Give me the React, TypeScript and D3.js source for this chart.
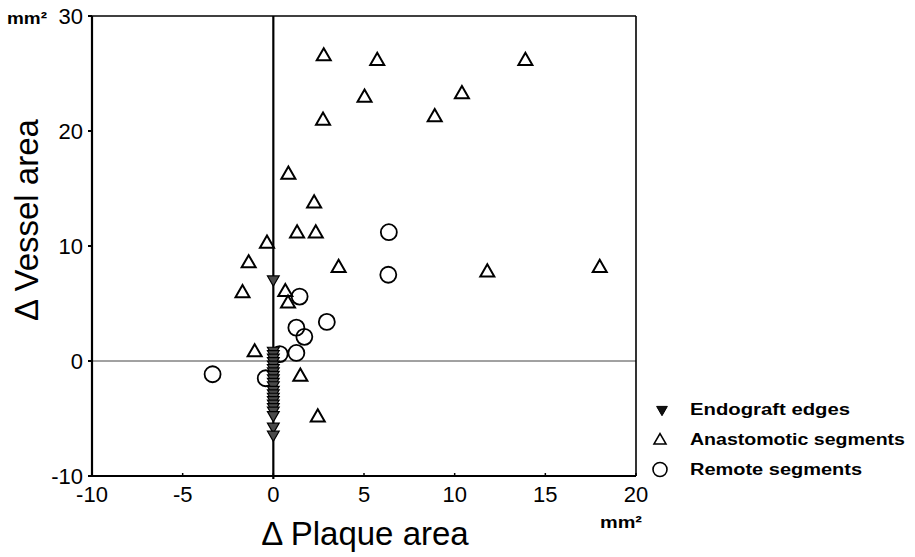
import React from "react";
import * as d3 from "d3";

// ---- data ----
const xTicks = [-10, -5, 0, 5, 10, 15, 20];
const yTicks = [-10, 0, 10, 20, 30];

const anastomoticX = [2.78, 5.73, 13.9, 5.03, 10.4, 8.9, 2.74, 0.83, 2.25, 1.31, 2.34, -0.35, -1.36, 3.6, 11.8, 18.0, -1.7, 0.66, 0.81, -1.03, 1.49, 2.45];
const anastomoticY = [26.5, 26.1, 26.1, 22.9, 23.2, 21.2, 20.9, 16.2, 13.7, 11.1, 11.1, 10.2, 8.5, 8.1, 7.7, 8.1, 5.9, 6.0, 5.0, 0.76, -1.36, -4.9];

const remoteX = [6.37, 6.34, 1.45, 2.95, 1.27, 1.71, 1.27, 0.35, -3.35, -0.42];
const remoteY = [11.2, 7.5, 5.6, 3.4, 2.9, 2.1, 0.7, 0.6, -1.15, -1.5];

const endograftX = [0, 0, 0, 0, 0, 0, 0, 0, 0, 0, 0, 0, 0, 0, 0, 0, 0, 0, 0, 0, 0, 0];
const endograftY = [7.1, 0.9, 0.6, 0.3, 0.0, -0.3, -0.6, -0.9, -1.2, -1.5, -1.8, -2.1, -2.5, -2.8, -3.1, -3.4, -3.7, -4.0, -4.3, -4.7, -5.7, -6.4];

const legendLabels = ["Endograft edges", "Anastomotic segments", "Remote segments"];

export default function App() {
  const left = 92, right = 636, top = 16, bottom = 476;
  const x = d3.scaleLinear().domain([-10, 20]).range([left, right]);
  const y = d3.scaleLinear().domain([-10, 30]).range([bottom, top]);

  const triUp = d3.symbol().type(d3.symbolTriangle).size(85)() as string;
  const triDown = d3.symbol().type(d3.symbolTriangle).size(60)() as string;
  const triLegendDown = d3.symbol().type(d3.symbolTriangle).size(50)() as string;
  const triLegend = d3.symbol().type(d3.symbolTriangle).size(62)() as string;
  const font = "Arial, 'Liberation Sans', Helvetica, sans-serif";

  const legendY = [409.5, 439.5, 469.5];
  const legendLen = [160, 215, 172];

  return (
    <svg width={915} height={557} style={{ position: "absolute", left: 0, top: 0, background: "#fff" }} fontFamily={font}>
      <rect x={0} y={0} width={915} height={557} fill="#fff" />
      {/* zero lines */}
      <line x1={left} x2={right} y1={y(0)} y2={y(0)} stroke="#444" strokeWidth={1} />
      <line x1={x(0)} x2={x(0)} y1={top} y2={bottom + 3} stroke="#000" strokeWidth={2.2} />
      {/* frame */}
      <line x1={left} x2={right} y1={top} y2={top} stroke="#000" strokeWidth={1.5} />
      <line x1={right} x2={right} y1={top} y2={bottom} stroke="#000" strokeWidth={1.6} />
      <line x1={left} x2={left} y1={top} y2={bottom} stroke="#000" strokeWidth={2.2} />
      <line x1={left} x2={right} y1={bottom} y2={bottom} stroke="#000" strokeWidth={2.2} />
      {/* ticks */}
      {xTicks.map((t) => (
        <g key={"xt" + t}>
          <line x1={x(t)} x2={x(t)} y1={bottom} y2={bottom - 3} stroke="#000" strokeWidth={1.5} />
          <text x={x(t)} y={502} fontSize={22} textAnchor="middle" fill="#000">{t}</text>
        </g>
      ))}
      {yTicks.map((t) => (
        <g key={"yt" + t}>
          <line x1={left - 4} x2={left} y1={y(t)} y2={y(t)} stroke="#000" strokeWidth={2} />
          <text x={83} y={y(t)} dy="0.36em" fontSize={22} textAnchor="end" fill="#000">{t}</text>
        </g>
      ))}
      {/* units */}
      <text x={7} y={24} fontSize={17} fontWeight="bold" textLength={40} lengthAdjust="spacingAndGlyphs">mm²</text>
      <text x={600} y={528} fontSize={17} fontWeight="bold" textLength={42} lengthAdjust="spacingAndGlyphs">mm²</text>
      {/* axis titles */}
      <text x={365} y={545} fontSize={33} textAnchor="middle">Δ Plaque area</text>
      <text transform={`translate(38,220) rotate(-90)`} fontSize={33} textAnchor="middle">Δ Vessel area</text>

      {/* remote segments */}
      {remoteX.map((v, i) => (
        <circle key={"r" + i} cx={x(v)} cy={y(remoteY[i])} r={8} fill="none" stroke="#000" strokeWidth={1.8} />
      ))}
      {/* anastomotic segments */}
      {anastomoticX.map((v, i) => (
        <path key={"a" + i} d={triUp} transform={`translate(${x(v)},${y(anastomoticY[i])})`} fill="none" stroke="#000" strokeWidth={2} strokeLinejoin="miter" />
      ))}
      {/* endograft edges */}
      {endograftX.map((v, i) => (
        <path key={"e" + i} d={triDown} transform={`translate(${x(v)},${y(endograftY[i])}) rotate(180)`} fill="#4a4a4a" stroke="#000" strokeWidth={1.2} />
      ))}

      {/* legend */}
      <path d={triLegendDown} transform={`translate(662,${legendY[0]}) rotate(180)`} fill="#111" stroke="#000" strokeWidth={1} />
      <path d={triLegend} transform={`translate(660,${legendY[1] + 1})`} fill="none" stroke="#000" strokeWidth={1.6} />
      <circle cx={660} cy={legendY[2]} r={7} fill="none" stroke="#000" strokeWidth={1.6} />
      {legendLabels.map((l, i) => (
        <text key={l} x={690} y={legendY[i]} dy="0.36em" fontSize={16} fontWeight="bold" textLength={legendLen[i]} lengthAdjust="spacingAndGlyphs">{l}</text>
      ))}
    </svg>
  );
}
